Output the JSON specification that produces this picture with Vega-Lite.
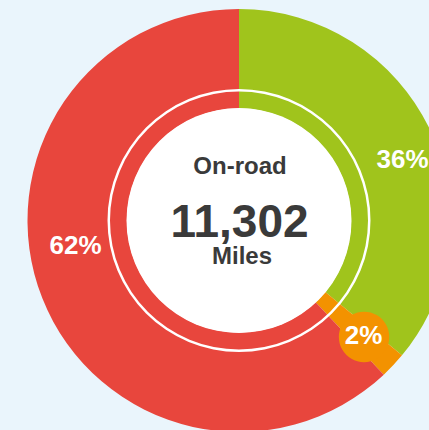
{
  "$schema": "https://vega.github.io/schema/vega-lite/v6.json",
  "width": 478,
  "height": 441,
  "padding": 0,
  "autosize": {"type": "none"},
  "background": "#eaf5fc",
  "config": {"view": {"stroke": null}, "text": {"font": "Liberation Sans"}},
  "datasets": {
    "shares": [
      {"category": "Green", "rank": 1, "value": 36, "label": "36%"},
      {"category": "Orange", "rank": 2, "value": 2, "label": "2%"},
      {"category": "Red", "rank": 3, "value": 62, "label": "62%"}
    ],
    "center": [
      {"title": "On-road", "total": "11,302", "unit": "Miles"}
    ]
  },
  "data": {"name": "shares"},
  "layer": [
    {
      "mark": {"type": "arc", "innerRadius": 112, "outerRadius": 211.5},
      "encoding": {
        "theta": {"field": "value", "type": "quantitative", "stack": true},
        "order": {"field": "rank", "type": "ordinal"},
        "color": {
          "field": "category",
          "type": "nominal",
          "scale": {"domain": ["Green", "Orange", "Red"], "range": ["#a0c41c", "#f39200", "#e8463d"]},
          "legend": null
        }
      }
    },
    {
      "data": {"name": "center"},
      "mark": {"type": "arc", "innerRadius": 129, "outerRadius": 131.5, "fill": "#ffffff", "theta": 0, "theta2": 6.2832},
      "encoding": {}
    },
    {
      "data": {"name": "center"},
      "mark": {"type": "arc", "innerRadius": 0, "outerRadius": 112.5, "fill": "#ffffff", "theta": 0, "theta2": 6.2832},
      "encoding": {}
    },
    {
      "mark": {"type": "text", "radius": 168, "font": "DejaVu Sans", "fontSize": 66, "baseline": "middle", "align": "center", "fill": "#f39200", "dx": 2.5, "dy": -2},
      "encoding": {
        "theta": {"field": "value", "type": "quantitative", "stack": true},
        "order": {"field": "rank", "type": "ordinal"},
        "text": {"condition": {"test": "datum.category === 'Orange'", "value": "●"}, "value": ""}
      }
    },
    {
      "mark": {"type": "text", "radius": 168, "fontSize": 26, "fontWeight": "bold", "fill": "#ffffff", "baseline": "alphabetic", "align": "center", "dx": 11.5, "dy": 19.3},
      "encoding": {
        "theta": {"field": "value", "type": "quantitative", "stack": true},
        "order": {"field": "rank", "type": "ordinal"},
        "text": {"condition": {"test": "datum.category === 'Green'", "field": "label"}, "value": ""}
      }
    },
    {
      "mark": {"type": "text", "radius": 168, "fontSize": 26, "fontWeight": "bold", "fill": "#ffffff", "baseline": "alphabetic", "align": "center", "dx": 2, "dy": 8},
      "encoding": {
        "theta": {"field": "value", "type": "quantitative", "stack": true},
        "order": {"field": "rank", "type": "ordinal"},
        "text": {"condition": {"test": "datum.category === 'Orange'", "field": "label"}, "value": ""}
      }
    },
    {
      "mark": {"type": "text", "radius": 168, "fontSize": 26, "fontWeight": "bold", "fill": "#ffffff", "baseline": "alphabetic", "align": "center", "dx": -7.3, "dy": -28},
      "encoding": {
        "theta": {"field": "value", "type": "quantitative", "stack": true},
        "order": {"field": "rank", "type": "ordinal"},
        "text": {"condition": {"test": "datum.category === 'Red'", "field": "label"}, "value": ""}
      }
    },
    {
      "data": {"name": "center"},
      "mark": {"type": "text", "fontSize": 24, "fontWeight": "bold", "fill": "#3a3a3a", "baseline": "alphabetic", "align": "center", "dx": 1, "dy": -46.5},
      "encoding": {"text": {"field": "title"}}
    },
    {
      "data": {"name": "center"},
      "mark": {"type": "text", "fontSize": 46, "fontWeight": "bold", "fill": "#3a3a3a", "baseline": "alphabetic", "align": "center", "dx": 0.5, "dy": 16.2},
      "encoding": {"text": {"field": "total"}}
    },
    {
      "data": {"name": "center"},
      "mark": {"type": "text", "fontSize": 24, "fontWeight": "bold", "fill": "#3a3a3a", "baseline": "alphabetic", "align": "center", "dx": 3, "dy": 43.5},
      "encoding": {"text": {"field": "unit"}}
    }
  ]
}
